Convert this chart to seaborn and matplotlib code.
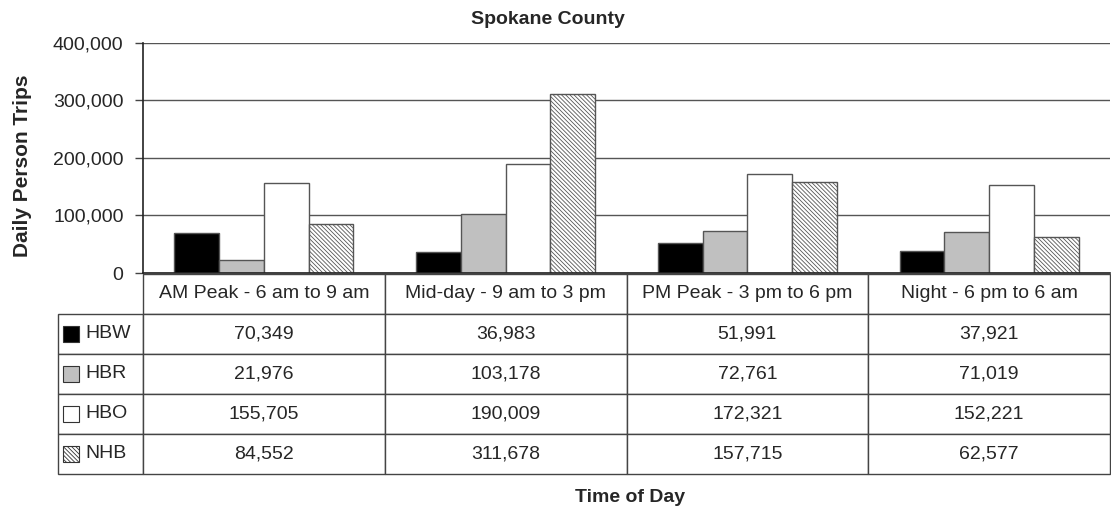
import numpy as np
import pandas as pd
import matplotlib
matplotlib.use("Agg")
import matplotlib.pyplot as plt
from matplotlib.patches import Rectangle
from matplotlib.ticker import FuncFormatter
import seaborn as sns

periods = ["AM Peak - 6 am to 9 am", "Mid-day - 9 am to 3 pm",
           "PM Peak - 3 pm to 6 pm", "Night - 6 pm to 6 am"]
purposes = ["HBW", "HBR", "HBO", "NHB"]
hbw = [70349, 36983, 51991, 37921]
hbr = [21976, 103178, 72761, 71019]
hbo = [155705, 190009, 172321, 152221]
nhb = [84552, 311678, 157715, 62577]

colors = {"HBW": "#000000", "HBR": "#c0c0c0", "HBO": "#ffffff", "NHB": "#ffffff"}
hatches = {"HBW": "", "HBR": "", "HBO": "", "NHB": "\\" * 8}

series = dict(zip(purposes, [hbw, hbr, hbo, nhb]))
df = pd.DataFrame([(p, k, v) for k, vals in series.items() for p, v in zip(periods, vals)],
                  columns=["period", "purpose", "trips"])

sns.set_style("white")
plt.rcParams["font.family"] = ["Liberation Sans", "DejaVu Sans"]
plt.rcParams["hatch.linewidth"] = 0.6
plt.rcParams["hatch.color"] = "#444444"

fig = plt.figure(figsize=(11.11, 5.14), dpi=100)
ax = fig.add_axes([143 / 1111, 1 - 273 / 514, 967 / 1111, 230 / 514])

sns.barplot(data=df, x="period", y="trips", hue="purpose", order=periods,
            hue_order=purposes, palette=colors, saturation=1, width=0.74,
            edgecolor="#555555", linewidth=1, legend=False, ax=ax)
for cont, k in zip(ax.containers, purposes):
    for bar in cont:
        bar.set_hatch(hatches[k])

ax.set_ylim(0, 400000)
ax.set_xlim(-0.5, len(periods) - 0.5)
ax.set_yticks([0, 100000, 200000, 300000, 400000])
ax.yaxis.set_major_formatter(FuncFormatter(lambda v, _: f"{int(v):,}"))
ax.tick_params(axis="y", labelsize=14, length=6, width=1, color="#444444", pad=8, left=True)
ax.set_xticks([])
ax.set_xlabel("")
ax.set_ylabel("")
ax.yaxis.grid(True, color="#555555", linewidth=1)
ax.set_axisbelow(True)
for s in ["top", "right"]:
    ax.spines[s].set_visible(False)
ax.spines["left"].set_color("#222222")
ax.spines["bottom"].set_color("#222222")
ax.spines["left"].set_linewidth(1.2)
ax.spines["bottom"].set_linewidth(1.2)

# data table under the chart (first column holds the series names)
cell_text = [[k] + [f"{v:,}" for v in series[k]] for k in purposes]
lab_w = 85 / 967
tb_x0, tb_top, tb_h = -lab_w, -1 / 230, 200 / 230
tbl = ax.table(cellText=cell_text, colLabels=[""] + periods,
               cellLoc="center", colLoc="center",
               colWidths=[lab_w] + [0.25] * 4,
               bbox=[tb_x0, tb_top - tb_h, 1 + lab_w, tb_h])
tbl.auto_set_font_size(False)
tbl.set_fontsize(14)
for (r, c), cell in tbl.get_celld().items():
    cell.set_edgecolor("#444444")
    cell.set_linewidth(1)
    if c == 0:
        cell._loc = "left"
        cell.PAD = 27 / 85
        cell.get_text().set_horizontalalignment("left")
        if r == 0:
            cell.set_visible(False)

row_h = tb_h / 5
for i, k in enumerate(purposes):
    yc = tb_top - (i + 1.5) * row_h
    sw_h = 16 / 230
    ax.add_patch(Rectangle((-80 / 967, yc - sw_h / 2), 16 / 967, sw_h,
                           transform=ax.transAxes, clip_on=False, zorder=5,
                           facecolor=colors[k], edgecolor="#333333",
                           linewidth=0.8, hatch=hatches[k]))

fig.text(548 / 1111, 1 - 19 / 514, "Spokane County", ha="center", va="center",
         fontsize=14, fontweight="bold")
fig.text(23 / 1111, 1 - 166 / 514, "Daily Person Trips", ha="center", va="center",
         rotation=90, fontsize=15, fontweight="bold")
fig.text(630 / 1111, 1 - 498 / 514, "Time of Day", ha="center", va="center",
         fontsize=14, fontweight="bold")

fig.savefig("out.png", dpi=100)
